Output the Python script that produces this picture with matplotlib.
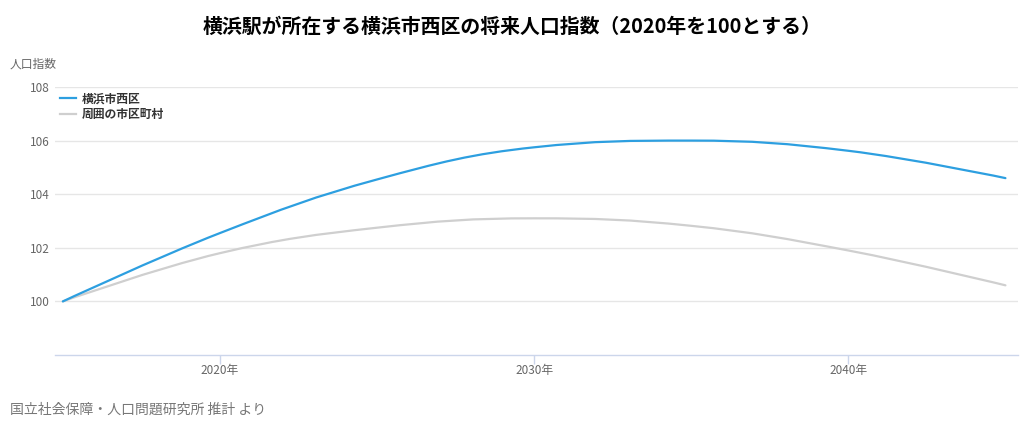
import matplotlib
matplotlib.use("Agg")
import matplotlib.pyplot as plt
from matplotlib.path import Path
from matplotlib.patches import PathPatch
from matplotlib.lines import Line2D

plt.rcParams["font.family"] = ["Noto Sans CJK JP", "DejaVu Sans"]

# データ（2020年を100とする指数）
years = [2015, 2020, 2025, 2030, 2035, 2040, 2045]
nishi_ku = [100.0, 102.55, 104.55, 105.75, 106.0, 105.62, 104.6]
surrounding = [100.0, 101.8, 102.75, 103.1, 102.82, 101.9, 100.6]
series_names = ["横浜市西区", "周囲の市区町村"]
series_colors = ["#2d9fe0", "#cfcfcf"]
x_ticks = [2020, 2030, 2040]
x_tick_labels = ["2020年", "2030年", "2040年"]
y_ticks = [100, 102, 104, 106, 108]


def spline_path(xs, ys, smoothing=1.5):
    """Highcharts風のスプライン (ベジェ) パス"""
    n = len(xs)
    left = [None] * n
    right = [None] * n
    denom = smoothing + 1
    for i in range(1, n - 1):
        px, py = xs[i], ys[i]
        lx, ly = xs[i - 1], ys[i - 1]
        nx, ny = xs[i + 1], ys[i + 1]
        lcx = (smoothing * px + lx) / denom
        lcy = (smoothing * py + ly) / denom
        rcx = (smoothing * px + nx) / denom
        rcy = (smoothing * py + ny) / denom
        if rcx != lcx:
            corr = (rcy - lcy) * (rcx - px) / (rcx - lcx) + py - rcy
            lcy += corr
            rcy += corr
        if lcy > ly and lcy > py:
            lcy = max(ly, py)
            rcy = 2 * py - lcy
        elif lcy < ly and lcy < py:
            lcy = min(ly, py)
            rcy = 2 * py - lcy
        if rcy > ny and rcy > py:
            rcy = max(ny, py)
            lcy = 2 * py - rcy
        elif rcy < ny and rcy < py:
            rcy = min(ny, py)
            lcy = 2 * py - rcy
        left[i] = (lcx, lcy)
        right[i] = (rcx, rcy)
    verts = [(xs[0], ys[0])]
    codes = [Path.MOVETO]
    for i in range(1, n):
        c1 = right[i - 1] or (xs[i - 1], ys[i - 1])
        c2 = left[i] or (xs[i], ys[i])
        verts += [c1, c2, (xs[i], ys[i])]
        codes += [Path.CURVE4] * 3
    return Path(verts, codes)


fig = plt.figure(figsize=(10.24, 4.3), dpi=100)
ax = fig.add_axes([55 / 1024, 75 / 430, 963 / 1024, 268 / 430])

for vals, color in zip([nishi_ku, surrounding][::-1], series_colors[::-1]):
    ax.add_patch(PathPatch(spline_path(years, vals), facecolor="none",
                           edgecolor=color, linewidth=1.6, zorder=3,
                           capstyle="round", joinstyle="round"))

ax.set_xlim(2014.75, 2045.4)
ax.set_ylim(98, 108)
ax.set_yticks(y_ticks)
ax.set_yticklabels([str(v) for v in y_ticks], color="#666666", fontsize=8.5)
ax.set_xticks(x_ticks)
ax.set_xticklabels(x_tick_labels, color="#666666", fontsize=8.5)
ax.tick_params(axis="y", length=0, pad=4)
ax.tick_params(axis="x", length=6.5, color="#ccd6eb", width=1, pad=0)
ax.grid(axis="y", color="#e6e6e6", linewidth=1)
ax.set_axisbelow(True)
for side in ["top", "right", "left"]:
    ax.spines[side].set_visible(False)
ax.spines["bottom"].set_color("#ccd6eb")
ax.spines["bottom"].set_linewidth(1)

handles = [Line2D([0], [0], color=c, linewidth=1.6) for c in series_colors]
leg = ax.legend(handles, series_names, loc="upper left",
                bbox_to_anchor=(0.0, 1.0), frameon=False,
                handlelength=1.3, handletextpad=0.5, labelspacing=0.2,
                borderaxespad=0.15, borderpad=0.3,
                prop={"weight": "bold", "size": 8.5})
for t in leg.get_texts():
    t.set_color("#333333")

fig.text(0.5, 1 - 26 / 430, "横浜駅が所在する横浜市西区の将来人口指数（2020年を100とする）",
         ha="center", va="center", fontsize=14.3, fontweight="bold", color="#000000")
fig.text(10 / 1024, 1 - 64 / 430, "人口指数", ha="left", va="center",
         fontsize=8.5, color="#666666")
fig.text(10 / 1024, 1 - 410 / 430, "国立社会保障・人口問題研究所 推計 より",
         ha="left", va="center", fontsize=10, color="#777777")

fig.savefig("out.png", dpi=100, facecolor="white")
